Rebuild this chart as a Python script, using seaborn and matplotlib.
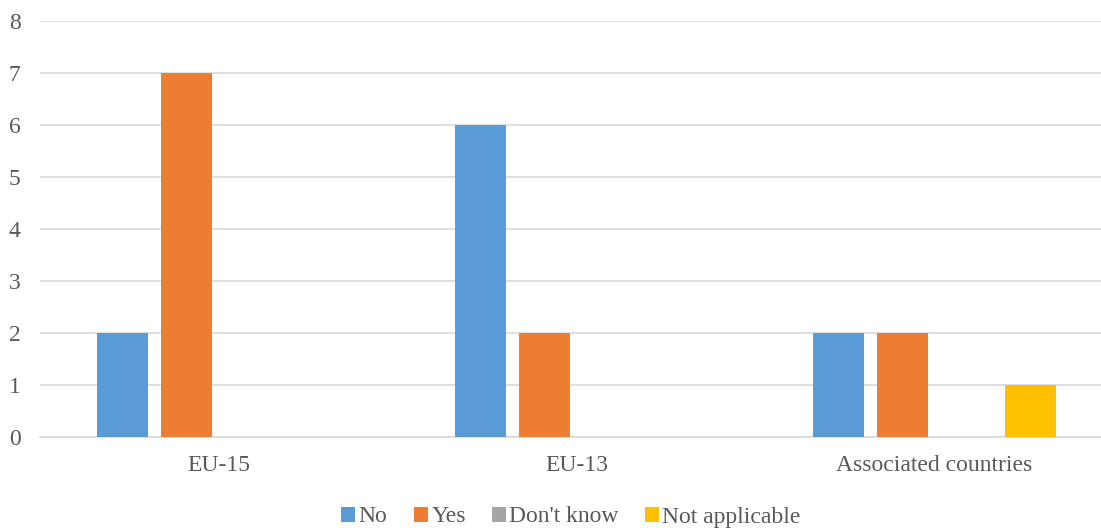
import pandas as pd
import matplotlib.pyplot as plt
import seaborn as sns

# Chart data
categories = ['EU-15', 'EU-13', 'Associated countries']
series = ['No', 'Yes', "Don't know", 'Not applicable']
no_vals = [2, 6, 2]
yes_vals = [7, 2, 2]
dont_know_vals = [0, 0, 0]
not_applicable_vals = [0, 0, 1]
colors = ['#5B9BD5', '#ED7D31', '#A5A5A5', '#FFC000']

rows = []
for name, vals in zip(series, [no_vals, yes_vals, dont_know_vals, not_applicable_vals]):
    for cat, v in zip(categories, vals):
        rows.append({'category': cat, 'answer': name, 'count': v})
df = pd.DataFrame(rows)

sns.set_style('white')
plt.rcParams['font.family'] = ['Liberation Serif', 'DejaVu Serif']

fig = plt.figure(figsize=(11.01, 5.28), dpi=100)
ax = fig.add_axes([40 / 1101, (528 - 437) / 528, 1 - 40 / 1101, (437 - 21) / 528])

sns.barplot(data=df, x='category', y='count', hue='answer', hue_order=series,
            palette=colors, saturation=1, width=0.716, gap=0.2, edgecolor='none',
            linewidth=0, ax=ax, legend=True, zorder=3)

ax.set_ylim(0, 8)
ax.set_xlim(-0.5, 2.466)
ax.set_yticks(range(0, 9))
ax.yaxis.grid(True, color='#D9D9D9', linewidth=1.2, zorder=0)
ax.set_axisbelow(True)
for s in ['top', 'right', 'left']:
    ax.spines[s].set_visible(False)
ax.spines['bottom'].set_color('#D9D9D9')
ax.spines['bottom'].set_linewidth(1.2)
ax.tick_params(axis='both', length=0, labelsize=17, labelcolor='#595959')
ax.tick_params(axis='y', pad=14)
ax.tick_params(axis='x', pad=13)
ax.set_xlabel('')
ax.set_ylabel('')

handles, labels = ax.get_legend_handles_labels()
ax.get_legend().remove()
fig.legend(handles, labels, loc='center', bbox_to_anchor=(571 / 1101, 1 - 517 / 528),
           ncol=4, frameon=False, fontsize=17, labelcolor='#595959',
           handlelength=0.6, handleheight=0.6, handletextpad=0.15, columnspacing=1.1,
           borderaxespad=0, borderpad=0)

fig.savefig('out.png', dpi=100)
